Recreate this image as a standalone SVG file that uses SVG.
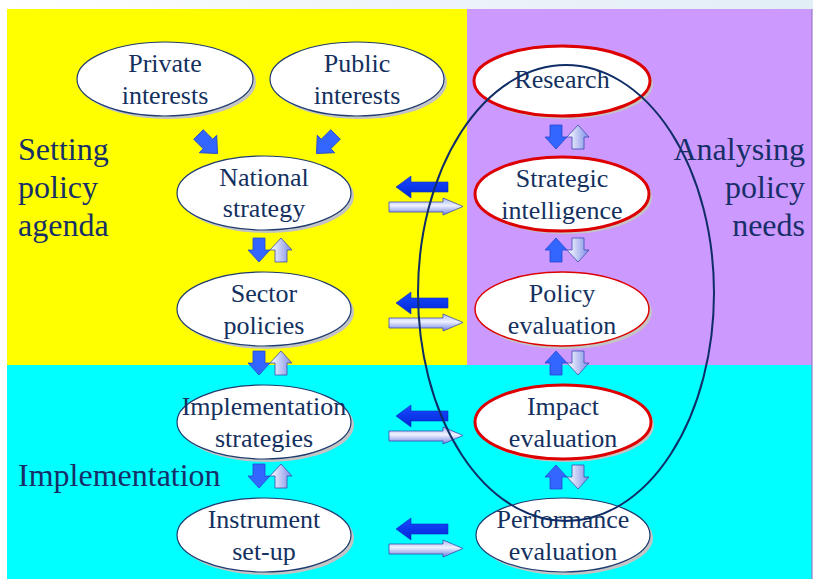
<svg xmlns="http://www.w3.org/2000/svg" width="813" height="579" viewBox="0 0 813 579">
<defs>
<linearGradient id="topStrip" x1="0" y1="0" x2="1" y2="0">
<stop offset="0" stop-color="#FFFFFF"/><stop offset="0.5" stop-color="#EEF4FA"/><stop offset="1" stop-color="#E2EEF6"/>
</linearGradient>
<linearGradient id="lightV" x1="0" y1="0" x2="1" y2="0">
<stop offset="0" stop-color="#FFFFFF"/><stop offset="1" stop-color="#7D8DE6"/>
</linearGradient>
<linearGradient id="lightH" x1="0" y1="0" x2="0" y2="1">
<stop offset="0" stop-color="#AEB8F2"/><stop offset="0.45" stop-color="#EEF1FF"/><stop offset="1" stop-color="#7080E0"/>
</linearGradient>
<linearGradient id="blueH" x1="0" y1="0" x2="0" y2="1">
<stop offset="0" stop-color="#1A4BFF"/><stop offset="1" stop-color="#0026D8"/>
</linearGradient>
<polygon id="downArrow" points="-6,-12 6,-12 6,0 11,0 0,12 -11,0 -6,0"/>
<polygon id="upArrow" points="-6,12 6,12 6,0 11,0 0,-12 -11,0 -6,0"/>
<polygon id="leftArrow" points="396,-6 411,-17 411,-11 448,-11 448,-1 411,-1 411,5"/>
<polygon id="rightArrow" points="389,9 443,9 443,5 463,13.5 443,22 443,19 389,19"/>
</defs>
<style>
.shadow{fill:#C4C4C4;}
.node{fill:#FFFFFF;stroke:#1E3C70;stroke-width:1.2;}
.red{fill:#FFFFFF;stroke:#DD0000;stroke-width:3;}
.redthin{fill:#FFFFFF;stroke:#DD0000;stroke-width:1.5;}
.t{font-family:"Liberation Serif","Times New Roman",serif;font-size:26px;fill:#13305F;text-anchor:middle;}
.side{font-family:"Liberation Serif","Times New Roman",serif;font-size:32px;fill:#172F68;}
.blue{fill:#3366FF;stroke:#2448D0;stroke-width:0.8;}
.light{fill:url(#lightV);stroke:#3A4DB0;stroke-width:0.8;}
.hblue{fill:url(#blueH);stroke:#0A2AC0;stroke-width:0.6;}
.hlight{fill:url(#lightH);stroke:#3A4DB0;stroke-width:0.8;}
</style>

<!-- background -->
<rect x="0" y="0" width="813" height="579" fill="#FFFFFF"/>
<rect x="0" y="0" width="813" height="9" fill="url(#topStrip)"/>
<rect x="7" y="9" width="460" height="356" fill="#FFFF00"/>
<rect x="467" y="9" width="345" height="356" fill="#CC99FF"/>
<rect x="7" y="365" width="805" height="214" fill="#00FFFF"/>
<rect x="811" y="9" width="2" height="570" fill="#9A7AC8" opacity="0.6"/>

<!-- side labels -->
<g id="label-setting">
<text class="side" x="18" y="160">Setting</text>
<text class="side" x="18" y="198">policy</text>
<text class="side" x="18" y="236">agenda</text>
</g>
<g id="label-analysing">
<text class="side" x="805" y="160" text-anchor="end">Analysing</text>
<text class="side" x="805" y="198" text-anchor="end">policy</text>
<text class="side" x="805" y="236" text-anchor="end">needs</text>
</g>
<g id="label-implementation">
<text class="side" x="18" y="486">Implementation</text>
</g>

<!-- nodes -->
<g id="private-interests">
<ellipse class="shadow" cx="168" cy="82" rx="88" ry="37"/>
<ellipse class="node" cx="165" cy="79" rx="88" ry="37"/>
<text class="t" x="165" y="72">Private</text>
<text class="t" x="165" y="104">interests</text>
</g>
<g id="public-interests">
<ellipse class="shadow" cx="360" cy="82" rx="87" ry="37"/>
<ellipse class="node" cx="357" cy="79" rx="87" ry="37"/>
<text class="t" x="357" y="72">Public</text>
<text class="t" x="357" y="104">interests</text>
</g>
<g id="national-strategy">
<ellipse class="shadow" cx="267" cy="196" rx="87" ry="37"/>
<ellipse class="node" cx="264" cy="193" rx="87" ry="37"/>
<text class="t" x="264" y="186">National</text>
<text class="t" x="264" y="217">strategy</text>
</g>
<g id="sector-policies">
<ellipse class="shadow" cx="267" cy="312" rx="87" ry="37"/>
<ellipse class="node" cx="264" cy="309" rx="87" ry="37"/>
<text class="t" x="264" y="302">Sector</text>
<text class="t" x="264" y="334">policies</text>
</g>
<g id="implementation-strategies">
<ellipse class="shadow" cx="267" cy="425" rx="87" ry="37"/>
<ellipse class="node" cx="264" cy="422" rx="87" ry="37"/>
<text class="t" x="264" y="415">Implementation</text>
<text class="t" x="264" y="447">strategies</text>
</g>
<g id="instrument-setup">
<ellipse class="shadow" cx="267" cy="538" rx="87" ry="37"/>
<ellipse class="node" cx="264" cy="535" rx="87" ry="37"/>
<text class="t" x="264" y="528">Instrument</text>
<text class="t" x="264" y="560">set-up</text>
</g>
<g id="research">
<ellipse class="shadow" cx="565" cy="84" rx="88" ry="35"/>
<ellipse class="red" cx="562" cy="81" rx="88" ry="35"/>
<text class="t" x="562" y="88">Research</text>
</g>
<g id="strategic-intelligence">
<ellipse class="shadow" cx="565" cy="197" rx="87" ry="37"/>
<ellipse class="red" cx="562" cy="194" rx="87" ry="37"/>
<text class="t" x="562" y="187">Strategic</text>
<text class="t" x="562" y="219">intelligence</text>
</g>
<g id="policy-evaluation">
<ellipse class="shadow" cx="565" cy="312" rx="87" ry="37"/>
<ellipse class="redthin" cx="562" cy="309" rx="87" ry="37"/>
<text class="t" x="562" y="302">Policy</text>
<text class="t" x="562" y="334">evaluation</text>
</g>
<g id="impact-evaluation">
<ellipse class="shadow" cx="566" cy="425" rx="88" ry="37"/>
<ellipse class="red" cx="563" cy="422" rx="88" ry="37"/>
<text class="t" x="563" y="415">Impact</text>
<text class="t" x="563" y="447">evaluation</text>
</g>
<g id="performance-evaluation">
<ellipse class="shadow" cx="566" cy="538" rx="87" ry="37"/>
<ellipse class="node" cx="563" cy="535" rx="87" ry="37"/>
<text class="t" x="563" y="528">Performance</text>
<text class="t" x="563" y="560">evaluation</text>
</g>

<!-- connectors -->
<g id="connectors">
<use href="#downArrow" class="blue" transform="translate(208,144) rotate(-45) scale(1.12)"/>
<use href="#downArrow" class="blue" transform="translate(326,144) rotate(45) scale(1.12)"/>

<use href="#downArrow" class="blue" transform="translate(259,250)"/>
<use href="#upArrow" class="light" transform="translate(281,250)"/>
<use href="#downArrow" class="blue" transform="translate(259,363)"/>
<use href="#upArrow" class="light" transform="translate(281,363)"/>
<use href="#downArrow" class="blue" transform="translate(259,476)"/>
<use href="#upArrow" class="light" transform="translate(281,476)"/>

<use href="#downArrow" class="blue" transform="translate(556,137)"/>
<use href="#upArrow" class="light" transform="translate(578,137)"/>
<use href="#upArrow" class="blue" transform="translate(556,250)"/>
<use href="#downArrow" class="light" transform="translate(578,250)"/>
<use href="#upArrow" class="blue" transform="translate(556,363)"/>
<use href="#downArrow" class="light" transform="translate(578,363)"/>
<use href="#upArrow" class="blue" transform="translate(556,477)"/>
<use href="#downArrow" class="light" transform="translate(578,477)"/>

<use href="#leftArrow" class="hblue" transform="translate(0,193)"/>
<use href="#rightArrow" class="hlight" transform="translate(0,193)"/>
<use href="#leftArrow" class="hblue" transform="translate(0,309)"/>
<use href="#rightArrow" class="hlight" transform="translate(0,309)"/>
<use href="#leftArrow" class="hblue" transform="translate(0,422)"/>
<use href="#rightArrow" class="hlight" transform="translate(0,422)"/>
<use href="#leftArrow" class="hblue" transform="translate(0,535)"/>
<use href="#rightArrow" class="hlight" transform="translate(0,535)"/>
</g>

<!-- large enclosing ellipse -->
<g id="analysis-loop">
<ellipse cx="566" cy="293" rx="148" ry="228" fill="none" stroke="#0F2D66" stroke-width="2"/>
</g>
</svg>
